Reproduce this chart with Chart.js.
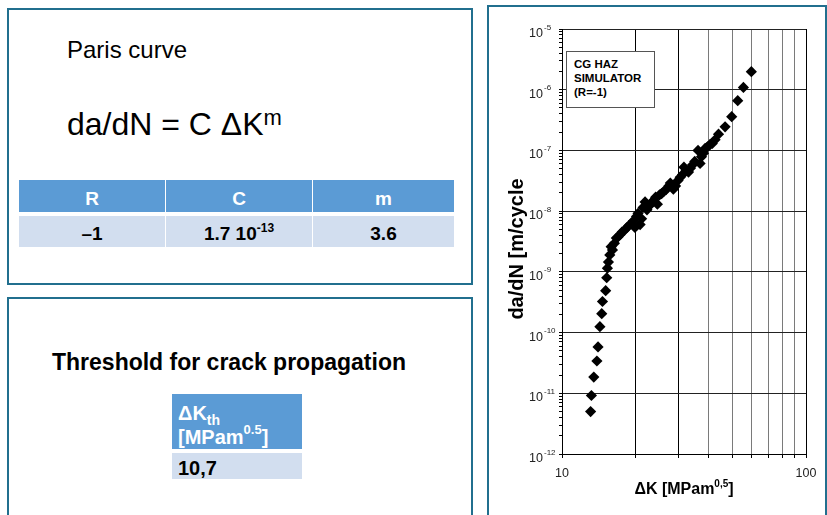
<!DOCTYPE html>
<html>
<head>
<meta charset="utf-8">
<script src="https://cdn.jsdelivr.net/npm/chart.js@4.4.0/dist/chart.umd.min.js"></script>
<style>
html,body{margin:0;padding:0;background:#fff;}
body{width:827px;height:515px;position:relative;overflow:hidden;font-family:'Liberation Sans',Arial,sans-serif;color:#000;}
.abs{position:absolute;line-height:1;white-space:nowrap;}
.panel{position:absolute;box-sizing:border-box;border:2px solid #216f8e;}
.cell{position:absolute;}
.hd{background:#5b9bd5;}
.rw{background:#d2deef;}
.b{font-weight:bold;}
.c{text-align:center;}
.up{position:relative;}
#chartBox{position:absolute;left:489px;top:8px;width:336px;height:507px;}
#note{position:absolute;left:566px;top:51px;width:89px;height:57px;box-sizing:border-box;border:1px solid #555;background:#fff;}
</style>
</head>
<body>
<!-- Paris curve panel -->
<div class="panel" style="left:7px;top:8px;width:466px;height:277px"></div>
<div class="abs" style="left:67px;top:38px;font-size:24px">Paris curve</div>
<div class="abs" style="left:67px;top:108px;font-size:32px">da/dN = C ΔK<span class="up" style="font-size:22px;top:-10px">m</span></div>

<div class="cell hd" style="left:19px;top:180px;width:146px;height:32px"></div>
<div class="cell hd" style="left:166px;top:180px;width:146px;height:32px"></div>
<div class="cell hd" style="left:313px;top:180px;width:141px;height:32px"></div>
<div class="cell rw" style="left:19px;top:216px;width:146px;height:31px"></div>
<div class="cell rw" style="left:166px;top:216px;width:146px;height:31px"></div>
<div class="cell rw" style="left:313px;top:216px;width:141px;height:31px"></div>
<div class="abs b c" style="left:19px;width:146px;top:189px;font-size:19px;color:#fff">R</div>
<div class="abs b c" style="left:166px;width:146px;top:189px;font-size:19px;color:#fff">C</div>
<div class="abs b c" style="left:313px;width:141px;top:189px;font-size:19px;color:#fff">m</div>
<div class="abs b c" style="left:19px;width:146px;top:224px;font-size:19px">–1</div>
<div class="abs b c" style="left:166px;width:146px;top:224px;font-size:19px">1.7 10<span class="up" style="font-size:12px;top:-8px">-13</span></div>
<div class="abs b c" style="left:313px;width:141px;top:224px;font-size:19px">3.6</div>

<!-- threshold panel -->
<div class="panel" style="left:7px;top:297px;width:466px;height:240px"></div>
<div class="abs b" style="left:52px;top:351px;font-size:23px">Threshold for crack propagation</div>
<div class="cell hd" style="left:172px;top:394px;width:130px;height:55px"></div>
<div class="cell rw" style="left:172px;top:453px;width:130px;height:26px"></div>
<div class="abs b" style="left:178px;top:403px;font-size:20px;color:#fff">ΔK<span class="up" style="font-size:14px;top:5px">th</span></div>
<div class="abs b" style="left:178px;top:427px;font-size:20px;color:#fff">[MPam<span class="up" style="font-size:13px;top:-10px">0.5</span>]</div>
<div class="abs b" style="left:178px;top:458px;font-size:20px">10,7</div>

<!-- chart panel -->
<div class="panel" style="left:487px;top:5px;width:340px;height:530px"></div>
<div id="chartBox"><canvas id="c" width="336" height="507"></canvas></div>
<div id="note"></div>
<div class="abs b" style="left:574px;top:57px;font-size:11.5px;line-height:14px">CG HAZ<br>SIMULATOR<br>(R=-1)</div>
<div class="abs b c" style="left:436px;top:237px;width:160px;height:24px;line-height:24px;font-size:20px;transform:rotate(-90deg)">da/dN [m/cycle</div>
<div class="abs b c" style="left:584px;top:481px;width:200px;font-size:16px">ΔK [MPam<span class="up" style="font-size:10px;top:-7px">0,5</span>]</div>

<script>
// ΔK [MPa m^0.5]  vs  da/dN [m/cycle], CG HAZ simulator R=-1
const dK = [13.1,13.2,13.5,13.9,14.05,14.3,14.55,14.65,15.1,15.25,
  15.35,15.5,15.7,15.9,16.1,16.4,16.7,17.0,17.3,17.6,
  18.0,18.4,18.8,19.2,19.6,19.9,20.2,20.5,20.9,21.2,
  21.5,21.9,22.3,22.7,23.2,23.7,24.2,24.6,25.1,25.6,
  26.1,26.7,27.4,27.8,28.6,29.2,29.9,30.5,31.2,31.6,
  32.3,33.0,33.6,34.3,35.0,36.1,36.8,37.3,38.0,38.6,
  39.5,40.4,41.3,42.4,43.8,46.6,49.6,52.5,55.4,59.7];
const dadN = [5.0e-12,9.2e-12,1.85e-11,3.4e-11,5.8e-11,1.25e-10,2.05e-10,3.25e-10,4.9e-10,8.0e-10,
  1.15e-9,1.45e-9,1.9e-9,2.6e-9,2.3e-9,2.95e-9,3.6e-9,3.8e-9,4.1e-9,4.5e-9,
  4.8e-9,5.3e-9,5.8e-9,6.2e-9,6.9e-9,5.4e-9,8.2e-9,9.2e-9,6.0e-9,7.5e-9,
  1.15e-8,1.42e-8,1.05e-8,1.2e-8,1.35e-8,1.5e-8,1.7e-8,1.3e-8,1.85e-8,1.95e-8,
  2.1e-8,2.25e-8,2.6e-8,2.9e-8,2.3e-8,2.6e-8,3.2e-8,3.6e-8,4.0e-8,5.3e-8,
  4.7e-8,4.4e-8,5.1e-8,5.8e-8,6.6e-8,1.0e-7,6.1e-8,7.9e-8,9.0e-8,1.08e-7,
  1.15e-7,1.25e-7,1.3e-7,1.5e-7,1.85e-7,2.45e-7,3.6e-7,6.6e-7,1.09e-6,1.98e-6];

const xTicks      = [10,20,30,40,50,60,70,80,90,100];
const xTickLabels = ['10','','','','','','','','','100'];
const yExps       = [-12,-11,-10,-9,-8,-7,-6,-5];
const yMinor      = [2,3,4,5,6,7,8,9];

const FONT = "'Liberation Sans', Arial, sans-serif";
Chart.defaults.font.family = FONT;

const yTickVals = [];
yExps.forEach(e=>{
  yTickVals.push(Number('1e'+e));
  if(e<yExps[yExps.length-1]) yMinor.forEach(m=>yTickVals.push(Number(m+'e'+e)));
});
yTickVals.sort((a,b)=>a-b);

const isDecade = v => Math.abs(Math.log10(v)-Math.round(Math.log10(v)))<1e-9;
const xGridCol = v => (v<=30||v>=100) ? '#000' : '#7a7a7a';

// y labels as 10 + raised exponent
const yLabels = {
  id:'yLabels',
  afterDraw(chart){
    const {ctx,chartArea,scales:{y}} = chart;
    ctx.save(); ctx.fillStyle='#222'; ctx.textBaseline='alphabetic';
    yExps.forEach(e=>{
      const py = y.getPixelForValue(Number('1e'+e));
      ctx.font = '12.5px '+FONT; ctx.textAlign='right';
      ctx.fillText('10', chartArea.left-19, py+8);
      ctx.font = '8px '+FONT; ctx.textAlign='left';
      ctx.fillText(String(e), chartArea.left-18, py+0.5);
    });
    ctx.restore();
  }
};

new Chart(document.getElementById('c'),{
  type:'scatter',
  data:{datasets:[{
    data:dK.map((k,i)=>({x:k,y:dadN[i]})),
    pointStyle:'rectRot',pointRadius:5.6,pointHoverRadius:5.6,
    backgroundColor:'#000',borderColor:'#000',borderWidth:0
  }]},
  options:{
    responsive:false,animation:false,
    layout:{padding:{top:21,right:19,bottom:0,left:0}},
    plugins:{legend:{display:false},tooltip:{enabled:false}},
    scales:{
      x:{
        type:'logarithmic',min:10,max:100,
        afterBuildTicks:s=>{s.ticks=xTicks.map(v=>({value:v}));},
        afterFit:s=>{s.height=61;},
        ticks:{autoSkip:false,maxRotation:0,padding:8,color:'#222',font:{size:12.5},callback:(v,i)=>xTickLabels[i]},
        grid:{color:c=>xGridCol(c.tick.value),lineWidth:1,tickLength:4,tickColor:'#000'},
        border:{color:'#000',width:1}
      },
      y:{
        type:'logarithmic',min:1e-12,max:1e-5,
        afterBuildTicks:s=>{s.ticks=yTickVals.map(v=>({value:v}));},
        afterFit:s=>{s.width=73;},
        ticks:{display:false,autoSkip:false},
        grid:{color:c=>isDecade(c.tick.value)?'#222':'rgba(0,0,0,0)',lineWidth:1,tickLength:3,tickColor:'#000'},
        border:{color:'#000',width:1}
      }
    }
  },
  plugins:[yLabels]
});
</script>
</body>
</html>
